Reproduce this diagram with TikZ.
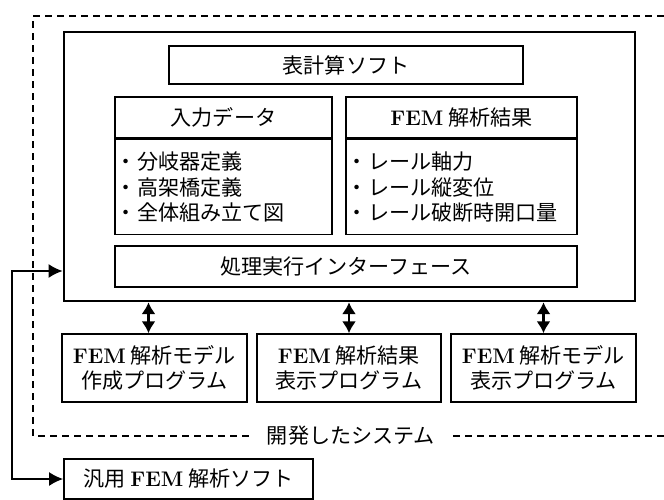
\documentclass[tikz,border=0pt]{standalone}
\usepackage{fontspec}
\newfontfamily\jpfont{Noto Sans CJK JP}
\usetikzlibrary{arrows.meta,positioning}
\newcommand{\FEM}{{\normalfont\bfseries FEM}}

\begin{document}
\begin{tikzpicture}[x=0.03cm, y=-0.03cm,
    every node/.style={font=\jpfont\fontsize{18}{21.5}\selectfont},
    box/.style={rectangle, draw, line width=1.4pt, inner sep=0pt, align=center},
    frame/.style={rectangle, draw, line width=2.2pt, inner sep=0pt},
    sysline/.style={line width=1pt, dash pattern=on 0.21cm off 0.15cm},
    dbl/.style={{Latex[length=10pt,width=12pt]}-{Latex[length=10pt,width=12pt]}, line width=2pt},
    arrow/.style={{Latex[length=12pt,width=12pt]}-{Latex[length=12pt,width=12pt]}, line width=1.8pt}]

    \useasboundingbox (0,0) rectangle (664,500);

    % developed system
    \node[frame, minimum width=17.13cm, minimum height=8.07cm] (system) at (349.5,166.5) {};
    \node[box, minimum width=10.62cm, minimum height=1.14cm] (calc) at (346,65) {表計算ソフト};
    \node[box, minimum width=6.51cm, minimum height=1.23cm] (inhead) at (223.5,117.5) {入力データ};
    \node[box, minimum width=6.51cm, minimum height=2.85cm, text width=6.45cm, align=left, below=0pt of inhead] (inbody)
        {・分岐器定義\\・高架橋定義\\・全体組み立て図};
    \node[box, minimum width=6.93cm, minimum height=1.23cm] (reshead) at (461.5,117.5) {\FEM{} 解析結果};
    \node[box, minimum width=6.93cm, minimum height=2.85cm, text width=6.87cm, align=left, below=0pt of reshead] (resbody)
        {・レール軸力\\・レール縦変位\\・レール破断時開口量};
    \node[box, minimum width=13.86cm, minimum height=1.23cm] (iface) at (346,266.5) {処理実行インターフェース};

    % programs
    \node[box, minimum width=5.55cm, minimum height=2.04cm, font=\jpfont\fontsize{18}{21}\selectfont] (makeprog) at (154.5,368)
        {\FEM{} 解析モデル\\作成プログラム};
    \node[box, minimum width=5.52cm, minimum height=2.04cm, font=\jpfont\fontsize{18}{21}\selectfont] (resprog) at (349,368)
        {\FEM{} 解析結果\\表示プログラム};
    \node[box, minimum width=5.55cm, minimum height=2.04cm, font=\jpfont\fontsize{18}{21}\selectfont] (viewprog) at (543.5,368)
        {\FEM{} 解析モデル\\表示プログラム};

    \draw[dbl] ([xshift=-0.18cm]makeprog.north) -- ([xshift=-0.18cm]makeprog.north |- system.south);
    \draw[dbl] (resprog.north) -- (resprog.north |- system.south);
    \draw[dbl] (viewprog.north) -- (viewprog.north |- system.south);

    % dashed border
    \node[inner xsep=0.54cm, inner ysep=0pt] (syslabel) at (351,436) {開発したシステム};
    \coordinate (dtop) at (33,16);
    \draw[sysline] (syslabel.west) -| (dtop) -- (664,16);
    \draw[sysline] (syslabel.east) -- (664,436);

    % general-purpose solver
    \node[box, minimum width=7.47cm, minimum height=1.2cm] (general) at (188.5,479) {汎用 \FEM{} 解析ソフト};
    \coordinate (loop) at (12,271);
    \draw[arrow] (system.west |- loop) -- (loop) |- (general.west);
\end{tikzpicture}
\end{document}
